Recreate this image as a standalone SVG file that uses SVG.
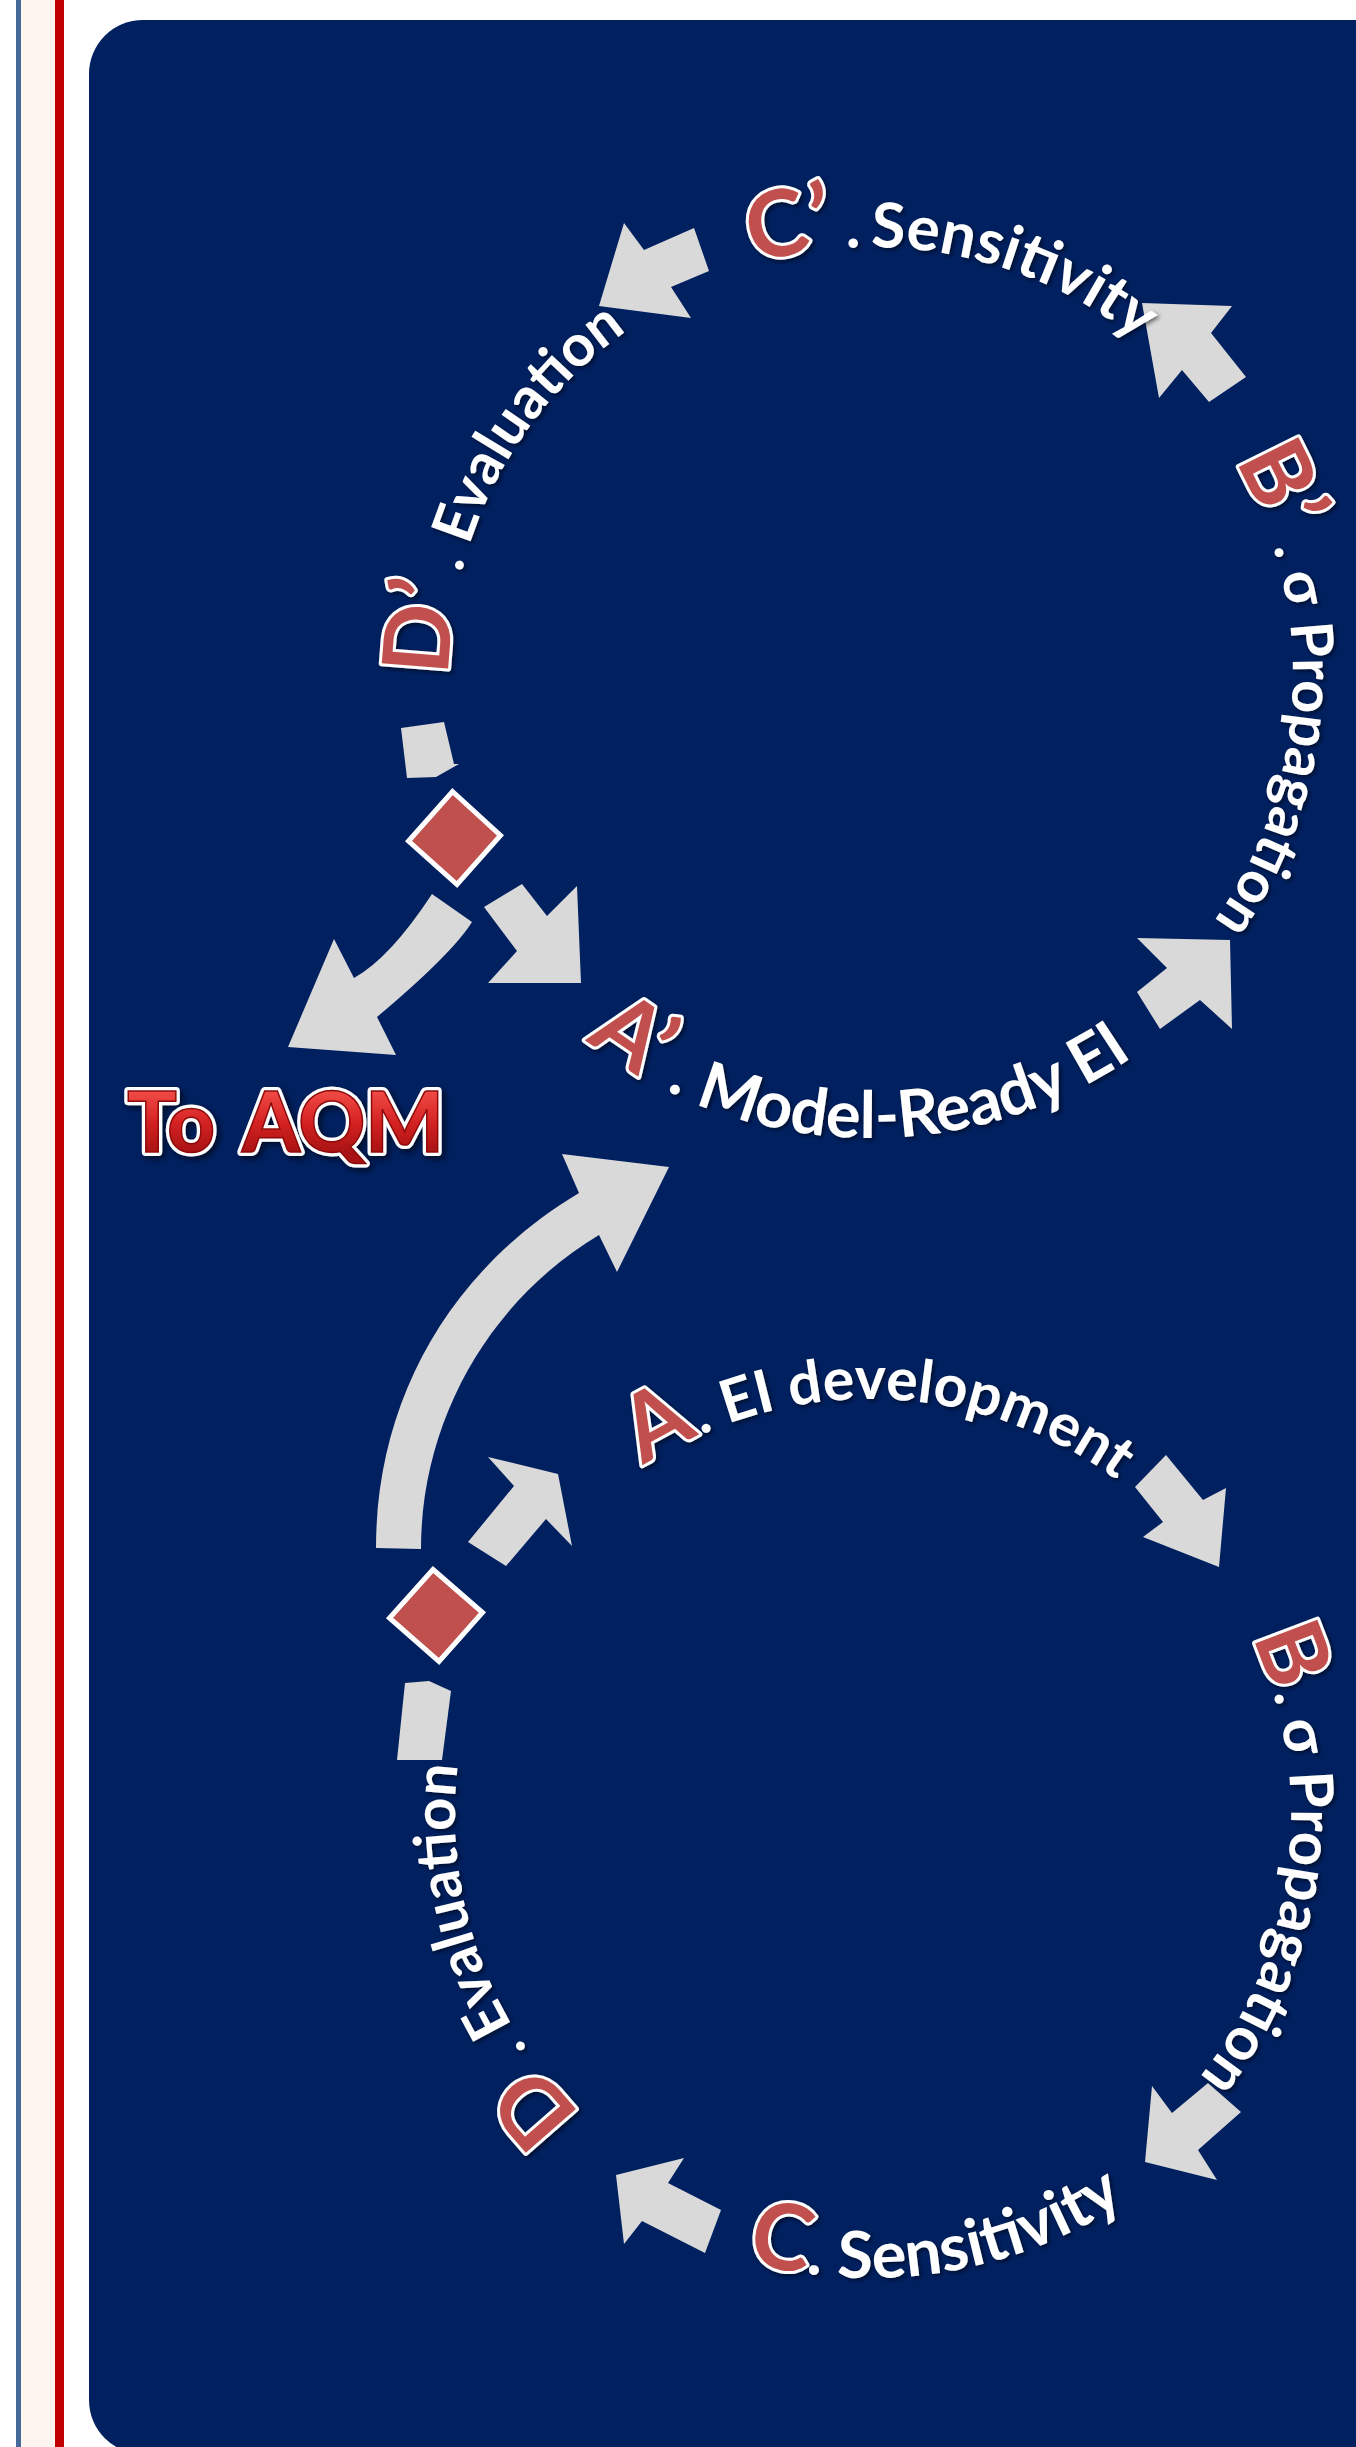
<svg xmlns="http://www.w3.org/2000/svg" width="1356" height="2447" viewBox="0 0 1356 2447">
<defs>
<style>
.arr{fill:#D9D9D9}
.lbl{font-family:Lato,"Open Sans","Liberation Sans",sans-serif;font-weight:700;filter:url(#sh)}
.wt{fill:#fff;font-size:58px}
.rd{fill:#C0504D;stroke:#fff;stroke-width:6;stroke-linejoin:round;paint-order:stroke;font-size:92px}
.dia{fill:#C0504D;stroke:#fff;stroke-width:5;stroke-linejoin:miter}
.aqm{font-family:Lato,"Open Sans","Liberation Sans",sans-serif;font-weight:900;font-size:84px}
</style>
<filter id="sh" x="-20%" y="-20%" width="140%" height="140%">
<feDropShadow dx="2" dy="2" stdDeviation="2" flood-color="#000" flood-opacity="0.55"/>
</filter>
<filter id="sh2" x="-10%" y="-20%" width="120%" height="140%">
<feDropShadow dx="3" dy="3" stdDeviation="3" flood-color="#000" flood-opacity="0.6"/>
</filter>
<linearGradient id="rg" gradientUnits="userSpaceOnUse" x1="0" y1="1092" x2="0" y2="1153">
<stop offset="0" stop-color="#F04A45"/>
<stop offset="0.5" stop-color="#D42222"/>
<stop offset="1" stop-color="#A81212"/>
</linearGradient>
<path id="pUT" d="M753.3,263.6 A428,428 0 0 1 1273.2,528.6"/>
<path id="pUR" d="M1234.6,460.8 A422,422 0 0 1 1082,1040.5"/>
<path id="pUB" d="M585.9,1039.9 A463,463 0 0 0 1225.7,972.6"/>
<path id="pUL" d="M449,676 A422,422 0 0 1 797.7,259.4"/>
<path id="pLT" d="M643.4,1466.1 A416,416 0 0 1 1230.3,1607"/>
<path id="pLR" d="M1251.6,1637.1 A421,421 0 0 1 1080.5,2179.6"/>
<path id="pLB" d="M746.3,2261.2 A463,463 0 0 0 1305.1,1973.4"/>
<path id="pLL" d="M581.7,2113.5 A415,415 0 0 1 576.6,1521.6"/>
</defs>

<rect x="0" y="0" width="1356" height="2447" fill="#fff"/>
<g id="side-strip">
<rect x="16" y="0" width="5" height="2447" fill="#46699A"/>
<rect x="21" y="0" width="34" height="2447" fill="#FFF5F0"/>
<rect x="55" y="0" width="9" height="2447" fill="#C00000"/>
</g>
<rect id="panel" x="89" y="20" width="1320" height="2434" rx="54" fill="#002060"/>

<g id="connectors">
<polygon class="arr" points="599,306 624,223 644,250 694,228 709,271 671,287 691,318"/>
<polygon class="arr" points="1142,303 1232,306 1211,333 1246,377 1209,402 1182,370 1159,398"/>
<polygon class="arr" points="1230,940 1137,938 1167,968 1137,992 1160,1029 1200,1000 1232,1029"/>
<polygon class="arr" points="401,728 444,722 454,764 459,764 436,777 407,778"/>
<polygon class="arr" points="484,907 522,884 547,916 577,886 581,983 488,983 517,951"/>
<path class="arr" d="M432,894 Q390,958 354,978 L334,939 L288,1047 L396,1055 L377,1017 Q452,954 472,922 Z"/>
<path class="arr" d="M376,1548 C376,1400 450,1270 579,1193 L562,1154 L669,1167 L617,1272 L599,1235 C490,1300 421,1420 421,1549 Z"/>
<polygon class="arr" points="405,1683 429,1681 451,1691 442,1760 397,1760"/>
<polygon class="arr" points="468,1542 514,1486 488,1457 558,1474 572,1546 546,1519 506,1566"/>
<polygon class="arr" points="1166,1455 1203,1500 1226,1488 1219,1567 1143,1537 1163,1522 1135,1487"/>
<polygon class="arr" points="1208,2083 1241,2112 1198,2150 1217,2180 1145,2162 1152,2086 1172,2113"/>
<polygon class="arr" points="616,2175 684,2158 668,2183 721,2210 705,2253 642,2221 624,2244"/>
</g>

<g id="decision-upper"><polygon class="dia" points="452.5,791.5 500.5,835.5 457,884.5 408.5,841"/></g>
<g id="decision-lower"><polygon class="dia" points="433,1569.5 482.5,1612.5 439,1661.5 389.5,1618"/></g>

<g id="node-upper-C"><text class="lbl"><textPath href="#pUT"><tspan class="rd">C’</tspan><tspan class="wt" style="font-size:62px" dx="-2"> .</tspan><tspan class="wt" style="font-size:62px" dx="-5"> Sensitivity</tspan></textPath></text></g>
<g id="node-upper-B"><text class="lbl"><textPath href="#pUR"><tspan class="rd">B’</tspan><tspan class="wt"> . σ Propagation</tspan></textPath></text></g>
<g id="node-upper-A"><text class="lbl"><textPath href="#pUB"><tspan class="rd">A’</tspan><tspan class="wt" style="font-size:65px"> . Model-Ready EI</tspan></textPath></text></g>
<g id="node-upper-D"><text class="lbl"><textPath href="#pUL"><tspan class="rd">D’</tspan><tspan class="wt"> . Evaluation</tspan></textPath></text></g>

<g id="node-lower-A"><text class="lbl"><textPath href="#pLT"><tspan class="rd">A</tspan><tspan class="wt" style="font-size:59px" dx="2">. EI development</tspan></textPath></text></g>
<g id="node-lower-B"><text class="lbl"><textPath href="#pLR"><tspan class="rd">B</tspan><tspan class="wt" style="font-size:60px">. σ Propagation</tspan></textPath></text></g>
<g id="node-lower-C"><text class="lbl"><textPath href="#pLB"><tspan class="rd">C</tspan><tspan class="wt" style="font-size:65px">. Sensitivity</tspan></textPath></text></g>
<g id="node-lower-D"><text class="lbl"><textPath href="#pLL"><tspan class="rd">D</tspan><tspan class="wt"> . Evaluation</tspan></textPath></text></g>

<g id="node-toaqm">
<g fill="#fff" stroke="#fff" stroke-width="8" stroke-linejoin="round" filter="url(#sh2)">
<text class="aqm" x="127" y="1152" textLength="88" lengthAdjust="spacingAndGlyphs">To</text>
<text class="aqm" x="242" y="1152" textLength="202" lengthAdjust="spacingAndGlyphs">AQM</text>
</g>
<g fill="url(#rg)" stroke="#8E0A0A" stroke-width="1.5">
<text class="aqm" x="127" y="1152" textLength="88" lengthAdjust="spacingAndGlyphs">To</text>
<text class="aqm" x="242" y="1152" textLength="202" lengthAdjust="spacingAndGlyphs">AQM</text>
</g>
</g>
</svg>
